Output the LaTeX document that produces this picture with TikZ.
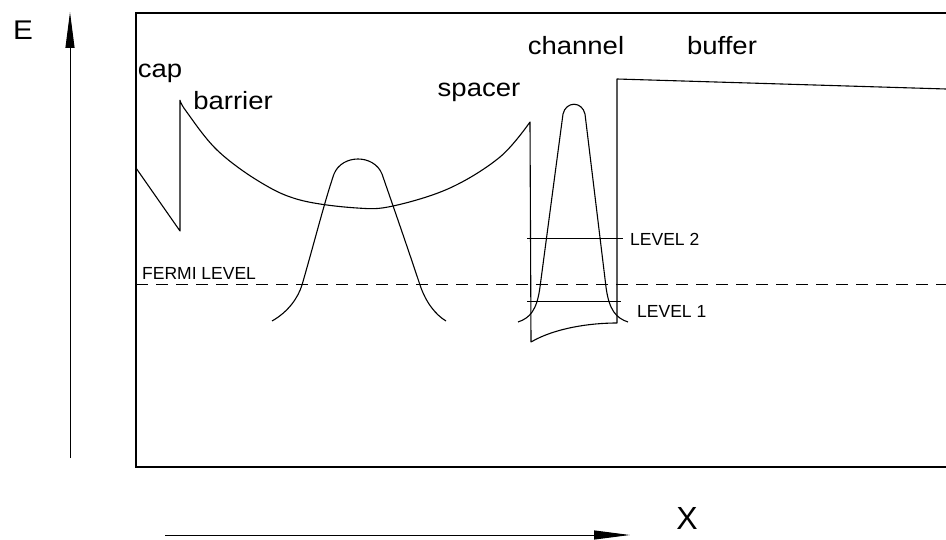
\documentclass[tikz,border=0pt]{standalone}
\usepackage{fontspec}
\setmainfont{Liberation Sans}
\newfontfamily\widesans[FakeStretch=1.1]{Liberation Sans}
\usetikzlibrary{arrows.meta}
\begin{document}
\begin{tikzpicture}[x=1pt,y=-1pt,
  curve/.style={line width=1.1pt, line join=round},
  frame/.style={line width=1.8pt},
  lbl/.style={font=\widesans\fontsize{25}{28}\selectfont, inner sep=0pt},
  small/.style={font=\fontsize{17.5}{19}\selectfont, inner sep=0pt},
  axisarrow/.style={line width=1pt, -{Triangle[length=36pt,width=9pt]}}]
\useasboundingbox (0,0) rectangle (946,540);
% frame
\draw[frame] (946,13) -- (136,13) -- (136,467) -- (946,467);
% axes
\coordinate (ebot) at (70,458);
\coordinate (etop) at (70,12);
\draw[axisarrow] (ebot) -- (etop);
\node[font=\widesans\fontsize{27}{29}\selectfont, inner sep=0pt] (E) at (23,30) {E};
\coordinate (xl) at (165,535);
\coordinate (xr) at (630,535);
\draw[axisarrow] (xl) -- (xr);
\node[font=\fontsize{32}{34}\selectfont, inner sep=0pt] (X) at (687,518) {X};
% Fermi level
\draw[line width=1pt, dash pattern=on 12pt off 8pt] (136,285) -- (946,285);
\node[small, anchor=south west] (fermi) at (142,280) {FERMI LEVEL};
% band edge
\draw[curve] (136,168) -- (180,231) -- (180,100)
  plot[smooth, tension=0.6] coordinates {(180,100) (186,111) (217,150) (260,182) (300,200) (357,208) (393,206) (450,188) (500,157) (530,122)}
  -- (531,342) .. controls (555,328) and (590,323) .. (617,323) -- (617,79) -- (946,89);
% barrier wavefunction
\draw[curve] (272,321) .. controls (288,312) and (298,298) .. (302,285)
  .. controls (315,240) and (325,200) .. (334,174)
  .. controls (342,154) and (374,154) .. (382,174)
  .. controls (391,200) and (405,240) .. (420,285)
  .. controls (426,303) and (436,315) .. (446,321);
% channel wavefunction
\draw[curve] (518,322) .. controls (530,318) and (537,310) .. (540,287)
  -- (563,114) .. controls (566,101) and (582,101) .. (585,114)
  -- (606,287) .. controls (609,310) and (616,318) .. (628,322);
% levels
\draw[line width=0.9pt] (527,238) -- (623,238);
\draw[line width=0.9pt] (527,301) -- (621,301);
\node[small, anchor=west] (l2) at (630,239) {LEVEL 2};
\node[small, anchor=west] (l1) at (637,311) {LEVEL 1};
% labels
\node[lbl] (cap) at (160,73) {cap};
\node[lbl] (barrier) at (233,101) {barrier};
\node[lbl] (spacer) at (479,92) {spacer};
\node[lbl] (channel) at (576,46) {channel};
\node[lbl] (buffer) at (722,46) {buffer};
\end{tikzpicture}
\end{document}
